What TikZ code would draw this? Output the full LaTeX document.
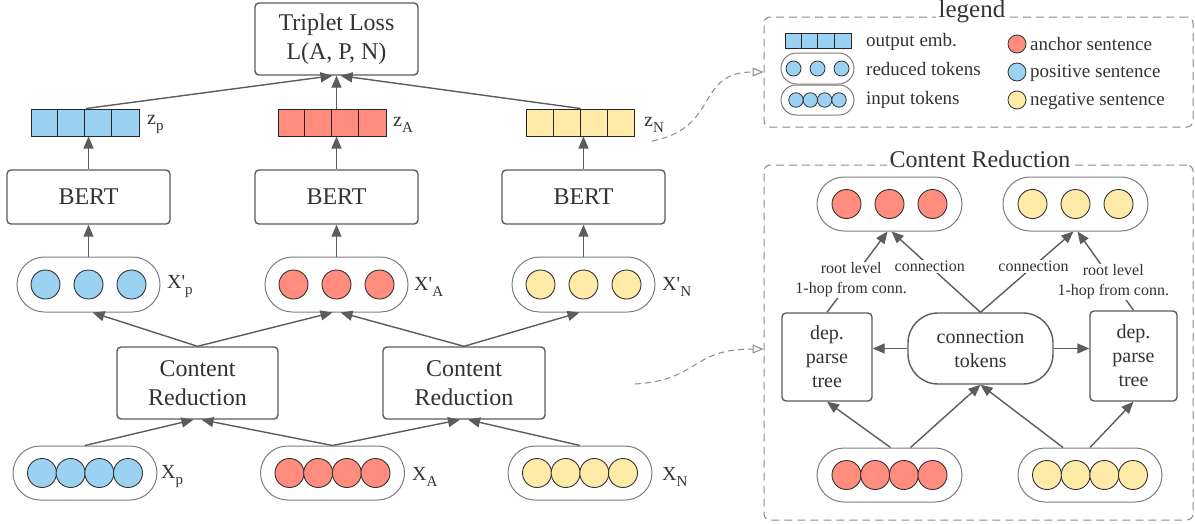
\documentclass[tikz,border=0pt]{standalone}
\usepackage{fontspec}
\setmainfont{Liberation Serif}
\usetikzlibrary{arrows.meta,shapes.misc}
\definecolor{cblue}{HTML}{9BD2F2}
\definecolor{cred}{HTML}{FF8C7C}
\definecolor{cyel}{HTML}{FFEAA7}
\definecolor{cline}{HTML}{5C5C5C}
\definecolor{ctext}{HTML}{333333}
\definecolor{cdash}{HTML}{8A8A8A}
\newcommand{\sbs}[1]{\raisebox{-0.3em}{\fontsize{15}{15}\selectfont #1}}
\newcommand{\pr}{\textquotesingle}
\begin{document}
\begin{tikzpicture}[x=1pt,y=-1pt,
  box/.style={draw=cline, line width=1.4, rounded corners=4, fill=white, text=ctext, align=center, inner sep=0},
  pill/.style={rounded rectangle, draw=cline!80, line width=1, fill=white, inner sep=0},
  tok/.style={circle, draw=ctext, line width=0.9, fill=#1, minimum size=29, inner sep=0},
  stok/.style={circle, draw=ctext, line width=0.8, fill=#1, minimum size=15, inner sep=0},
  vec/.style={draw=black!85, line width=1, fill=#1, minimum width=108, minimum height=27, inner sep=0},
  arr/.style={draw=cline, line width=1.4, -{Triangle[length=12,width=10]}},
  darr/.style={draw=cdash, line width=1, dash pattern=on 6pt off 4pt, -{Triangle[open,length=11,width=9]}},
  dbox/.style={draw=cdash, line width=1, dash pattern=on 8pt off 5pt, rounded corners=6},
  lbl/.style={text=ctext, font=\fontsize{20}{24}\selectfont, anchor=west, inner sep=0},
  big/.style={font=\fontsize{24}{29}\selectfont},
  mid/.style={font=\fontsize{20}{24}\selectfont},
  sml/.style={text=ctext, font=\fontsize{16}{20}\selectfont, fill=white, inner sep=1, align=center},
  leg/.style={text=ctext, font=\fontsize{19}{22}\selectfont, anchor=west, inner sep=0}
]
\useasboundingbox (0,0) rectangle (1195,523);

% ---------------- left part ----------------
\node[box, big, minimum width=163, minimum height=72] (tl) at (336.5,39) {Triplet Loss\\L(A, P, N)};

\node[vec=cblue] (zp) at (85,122.5) {};
\node[vec=cred] (za) at (332,122.5) {};
\node[vec=cyel] (zn) at (580.5,122.5) {};
\foreach \v in {zp,za,zn}{
  \foreach \i in {1,2,3}{
    \draw[black!85, line width=1] ([xshift=\i*27]\v.south west) -- ([xshift=\i*27]\v.north west);
  }
}
\node[lbl] (lzp) at (147,125) {z\sbs{p}};
\node[lbl] (lza) at (393,125) {z\sbs{A}};
\node[lbl] (lzn) at (644,125) {z\sbs{N}};

\node[box, big, minimum width=163, minimum height=54] (b1) at (88.5,197) {BERT};
\node[box, big, minimum width=163, minimum height=54] (b2) at (336.5,197) {BERT};
\node[box, big, minimum width=163, minimum height=54] (b3) at (583.5,197) {BERT};

\node[pill, minimum width=143, minimum height=55] (xpp) at (88.5,284.5) {};
\node[pill, minimum width=143, minimum height=55] (xpa) at (336.5,284.5) {};
\node[pill, minimum width=143, minimum height=55] (xpn) at (583.5,284.5) {};
\foreach \i/\dx in {1/-43,2/0,3/43}{
  \node[tok=cblue] (xpp\i) at ([xshift=\dx]xpp.center) {};
  \node[tok=cred] (xpa\i) at ([xshift=\dx]xpa.center) {};
  \node[tok=cyel] (xpn\i) at ([xshift=\dx]xpn.center) {};
}
\node[lbl] (lxpp) at (167,287) {X\pr\sbs{p}};
\node[lbl] (lxpa) at (414,287) {X\pr\sbs{A}};
\node[lbl] (lxpn) at (662,287) {X\pr\sbs{N}};

\node[box, big, minimum width=161, minimum height=72] (cr1) at (197.5,383) {Content\\Reduction};
\node[box, big, minimum width=162, minimum height=72] (cr2) at (464,383) {Content\\Reduction};

\node[pill, minimum width=144, minimum height=54] (xp) at (85,473) {};
\node[pill, minimum width=144, minimum height=54] (xa) at (332.5,473) {};
\node[pill, minimum width=144, minimum height=54] (xn) at (580,473) {};
\foreach \i/\dx in {1/-43,2/-14.33,3/14.33,4/43}{
  \node[tok=cblue] (xp\i) at ([xshift=\dx]xp.center) {};
  \node[tok=cred] (xa\i) at ([xshift=\dx]xa.center) {};
  \node[tok=cyel] (xn\i) at ([xshift=\dx]xn.center) {};
}
\node[lbl] (lxp) at (161,477) {X\sbs{p}};
\node[lbl] (lxa) at (412,477) {X\sbs{A}};
\node[lbl] (lxn) at (662,477) {X\sbs{N}};

% arrows left
\draw[arr] (xp.north) -- ([xshift=-4]cr1.south);
\draw[arr] (xa.north) -- ([xshift=4]cr1.south);
\draw[arr] (xa.north) -- ([xshift=-4]cr2.south);
\draw[arr] (xn.north) -- ([xshift=4]cr2.south);
\draw[arr] (cr1.north) -- ([xshift=4]xpp.south);
\draw[arr] (cr1.north) -- ([xshift=-4]xpa.south);
\draw[arr] (cr2.north) -- ([xshift=4]xpa.south);
\draw[arr] (cr2.north) -- ([xshift=-4]xpn.south);
\draw[arr] (xpp.north) -- (b1.south);
\draw[arr] (xpa.north) -- (b2.south);
\draw[arr] (xpn.north) -- (b3.south);
\draw[arr] (b1.north) -- (b1.north |- zp.south);
\draw[arr] (b2.north) -- (b2.north |- za.south);
\draw[arr] (b3.north) -- (b3.north |- zn.south);
\draw[arr] ([xshift=1]zp.north) -- ([xshift=-4]tl.south);
\draw[arr] (tl.south |- za.north) -- (tl.south);
\draw[arr] (zn.north) -- ([xshift=4]tl.south);

% ---------------- legend ----------------
\node[dbox, minimum width=429, minimum height=110] (legend) at (978.5,72) {};
\node[fill=white, text=ctext, font=\fontsize{25}{28}\selectfont, inner sep=3] (legt) at (972,12) {legend};
\node[vec=cblue, minimum width=66, minimum height=15] (lv) at (818,40.5) {};
\foreach \i in {1,2,3}{
  \draw[black!85, line width=1] ([xshift=\i*16.5]lv.south west) -- ([xshift=\i*16.5]lv.north west);
}
\node[pill, minimum width=73, minimum height=31] (lr) at (817.5,68.5) {};
\foreach \i/\dx in {1/-24,2/0,3/24}{
  \node[stok=cblue] (lr\i) at ([xshift=\dx]lr.center) {};
}
\node[pill, minimum width=73, minimum height=30] (li) at (817.5,100) {};
\foreach \i/\dx in {1/-21.5,2/-7.2,3/7.2,4/21.5}{
  \node[stok=cblue, minimum size=14.5] (li\i) at ([xshift=\dx]li.center) {};
}
\node[leg] (lt1) at (866,42) {output emb.};
\node[leg] (lt2) at (866,69) {reduced tokens};
\node[leg] (lt3) at (866,100) {input tokens};
\node[stok=cred, minimum size=18] (lc1) at (1017,44) {};
\node[stok=cblue, minimum size=18] (lc2) at (1017,72) {};
\node[stok=cyel, minimum size=18] (lc3) at (1017,100) {};
\node[leg] (lt4) at (1030,44) {anchor sentence};
\node[leg] (lt5) at (1030,73) {positive sentence};
\node[leg] (lt6) at (1030,101) {negative sentence};

% ---------------- content reduction panel ----------------
\node[dbox, minimum width=429, minimum height=355] (panel) at (978.5,342.5) {};
\node[fill=white, text=ctext, font=\fontsize{24}{28}\selectfont, inner sep=3] (pant) at (980,159) {Content Reduction};

\node[pill, minimum width=145, minimum height=54] (rt) at (889.5,204) {};
\node[pill, minimum width=145, minimum height=54] (yt) at (1075.5,204) {};
\foreach \i/\dx in {1/-43,2/0,3/43}{
  \node[tok=cred] (rt\i) at ([xshift=\dx]rt.center) {};
  \node[tok=cyel] (yt\i) at ([xshift=\dx]yt.center) {};
}
\node[box, mid, minimum width=90, minimum height=88] (dl) at (827,357) {dep.\\parse\\tree};
\node[box, mid, minimum width=87, minimum height=90] (dr) at (1133.5,356) {dep.\\parse\\tree};
\node[box, mid, rounded corners=30, minimum width=145, minimum height=71] (ct) at (980.5,348.5) {connection\\tokens};

\node[pill, minimum width=145, minimum height=54] (rb) at (889.5,475) {};
\node[pill, minimum width=144, minimum height=54] (yb) at (1090,475) {};
\foreach \i/\dx in {1/-43,2/-14.33,3/14.33,4/43}{
  \node[tok=cred] (rb\i) at ([xshift=\dx]rb.center) {};
  \node[tok=cyel] (yb\i) at ([xshift=\dx]yb.center) {};
}

\draw[arr] ([xshift=1]rb.north) -- (dl.south);
\draw[arr] ([xshift=21]rb.north) -- (ct.south);
\draw[arr] ([xshift=-27]yb.north) -- (ct.south);
\draw[arr] (yb.north) -- (dr.south);
\draw[arr] (ct.west) -- (ct.west -| dl.east);
\draw[arr] (ct.east) -- (ct.east -| dr.west);
\draw[arr] (dl.north) -- node[sml, pos=0.4] (lab1) {root level\\1-hop from conn.} ([xshift=-2]rt.south);
\draw[arr] (ct.north) -- node[sml, pos=0.57] (lab2) {connection} ([xshift=2]rt.south);
\draw[arr] (dr.north) -- node[sml, pos=0.36] (lab4) {root level\\1-hop from conn.} ([xshift=2]yt.south);
\draw[arr] (ct.north) -- node[sml, pos=0.57] (lab3) {connection} ([xshift=-2]yt.south);

% ---------------- dashed links ----------------
\coordinate (d1s) at (652,141);
\coordinate (d2s) at (635,384);
\draw[darr] (d1s) .. controls (720,128) and (695,72) .. (legend.west);
\draw[darr] (d2s) .. controls (700,380) and (690,349) .. ([yshift=-6.5]panel.west);
\end{tikzpicture}
\end{document}
